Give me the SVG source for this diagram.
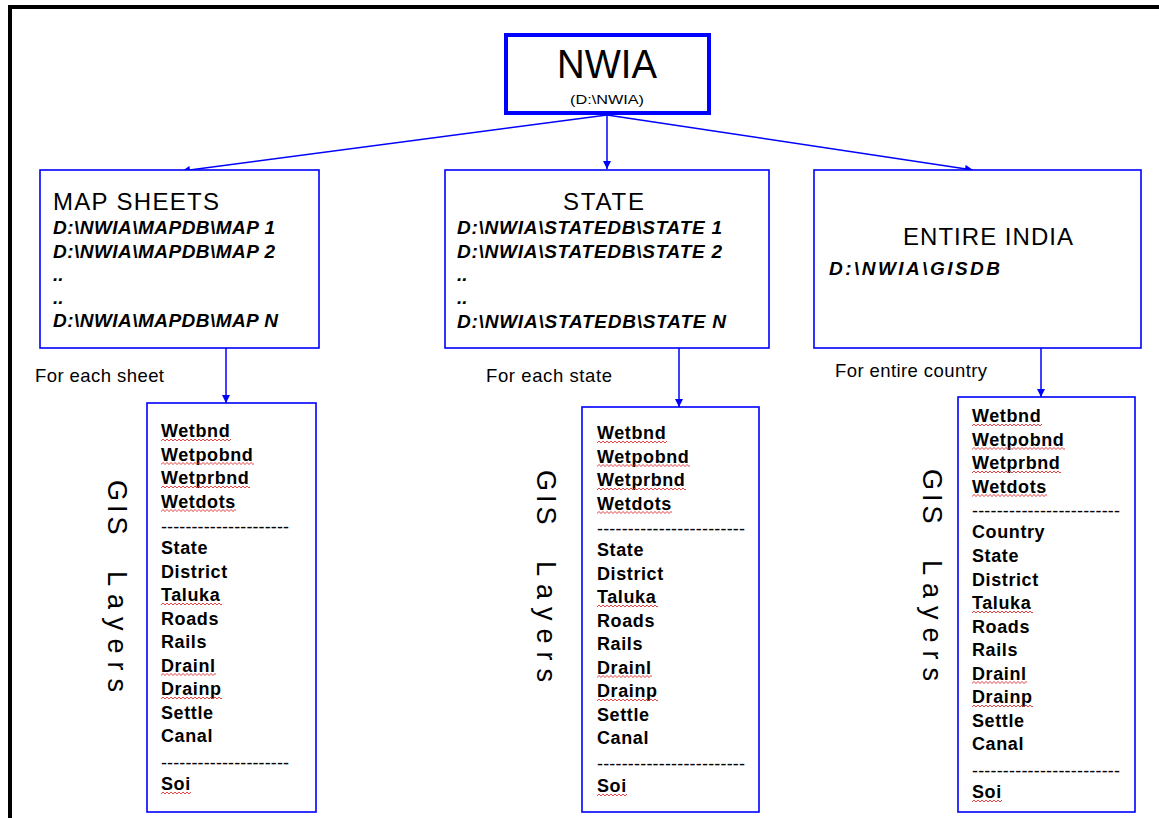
<svg xmlns="http://www.w3.org/2000/svg" width="1159" height="818" viewBox="0 0 1159 818">
<defs>
<style>
.box{fill:#fff;stroke:#0000ff;stroke-width:1.6}
.conn{stroke:#0000ff;stroke-width:1.5;fill:none;marker-end:url(#ah)}
text{font-family:"Liberation Sans",Arial,sans-serif;fill:#000}
.hdr{font-size:24px}
.pth{font-size:19px;font-style:italic;font-weight:bold}
.item{font-size:18px;font-weight:bold;letter-spacing:0.6px}
.dash{font-size:18px}
.lbl{font-size:18.5px}
.gis{font-size:27px}
.sq{fill:url(#sq)}
</style>
<pattern id="sq" width="4" height="4" patternUnits="userSpaceOnUse">
<path d="M0,3 L2,1 L4,3" fill="none" stroke="#e03030" stroke-width="0.9"/>
</pattern>
<marker id="ah" viewBox="0 0 10 10" refX="10" refY="5" markerWidth="9" markerHeight="8" markerUnits="userSpaceOnUse" orient="auto">
<path d="M0,0 L10,5 L0,10 z" fill="#0000ff"/>
</marker>
</defs>
<rect x="0" y="0" width="1159" height="818" fill="#fff"/>
<rect x="10" y="7" width="1200" height="900" fill="none" stroke="#000" stroke-width="4"/>

<g id="connectors">
<line class="conn" x1="607" y1="115" x2="182" y2="171"/>
<line class="conn" x1="607" y1="115" x2="607" y2="169"/>
<line class="conn" x1="607" y1="115" x2="973" y2="170"/>
<line class="conn" x1="226" y1="348" x2="226" y2="403"/>
<line class="conn" x1="679" y1="348" x2="679" y2="407"/>
<line class="conn" x1="1041" y1="348" x2="1041" y2="397"/>
</g>

<g id="nwia">
<rect x="506" y="35" width="203" height="78" fill="#fff" stroke="#0000ff" stroke-width="4"/>
<text x="557" y="78" font-size="40" textLength="100" lengthAdjust="spacingAndGlyphs">NWIA</text>
<text x="570" y="104" font-size="13" textLength="74" lengthAdjust="spacingAndGlyphs">(D:\NWIA)</text>
</g>

<g id="mapsheets">
<rect class="box" x="40" y="170" width="279" height="178"/>
<text class="hdr" x="53" y="210" textLength="166" lengthAdjust="spacing">MAP SHEETS</text>
<text class="pth" x="53" y="234" textLength="222" lengthAdjust="spacing">D:\NWIA\MAPDB\MAP 1</text>
<text class="pth" x="53" y="257.5" textLength="222" lengthAdjust="spacing">D:\NWIA\MAPDB\MAP 2</text>
<text class="pth" x="53" y="281">..</text>
<text class="pth" x="53" y="304">..</text>
<text class="pth" x="53" y="327" textLength="225" lengthAdjust="spacing">D:\NWIA\MAPDB\MAP N</text>
</g>

<g id="state">
<rect class="box" x="445" y="170" width="324" height="178"/>
<text class="hdr" x="563" y="210" textLength="81" lengthAdjust="spacing">STATE</text>
<text class="pth" x="457" y="234" textLength="265" lengthAdjust="spacing">D:\NWIA\STATEDB\STATE 1</text>
<text class="pth" x="457" y="257.5" textLength="265" lengthAdjust="spacing">D:\NWIA\STATEDB\STATE 2</text>
<text class="pth" x="457" y="281">..</text>
<text class="pth" x="457" y="304">..</text>
<text class="pth" x="457" y="327.5" textLength="269" lengthAdjust="spacing">D:\NWIA\STATEDB\STATE N</text>
</g>

<g id="india">
<rect class="box" x="814" y="170" width="327" height="178"/>
<text class="hdr" x="903" y="245" textLength="170" lengthAdjust="spacing">ENTIRE INDIA</text>
<text class="pth" x="829" y="275" textLength="171" lengthAdjust="spacing">D:\NWIA\GISDB</text>
</g>

<g id="labels">
<text class="lbl" x="35" y="382" textLength="129" lengthAdjust="spacing">For each sheet</text>
<text class="lbl" x="486" y="382" textLength="126" lengthAdjust="spacing">For each state</text>
<text class="lbl" x="835" y="377" textLength="152" lengthAdjust="spacing">For entire country</text>
</g>

<g id="gis1">
<text class="gis" transform="translate(108,480) rotate(90)"><tspan x="0" letter-spacing="4">GIS</tspan><tspan x="91" letter-spacing="8">Layers</tspan></text>
</g>
<g id="gis2">
<text class="gis" transform="translate(537,470) rotate(90)"><tspan x="0" letter-spacing="4">GIS</tspan><tspan x="91" letter-spacing="8">Layers</tspan></text>
</g>
<g id="gis3">
<text class="gis" transform="translate(923,469) rotate(90)"><tspan x="0" letter-spacing="4">GIS</tspan><tspan x="91" letter-spacing="8">Layers</tspan></text>
</g>

<g id="layers1">
<rect class="box" x="147" y="403" width="169" height="409"/>
<text class="item" x="161" y="437">Wetbnd</text>
<text class="item" x="161" y="460.5">Wetpobnd</text>
<text class="item" x="161" y="484">Wetprbnd</text>
<text class="item" x="161" y="507.5">Wetdots</text>
<text class="dash" x="161" y="533" textLength="128" lengthAdjust="spacing">---------------------</text>
<text class="item" x="161" y="554">State</text>
<text class="item" x="161" y="577.5">District</text>
<text class="item" x="161" y="601">Taluka</text>
<text class="item" x="161" y="624.5">Roads</text>
<text class="item" x="161" y="648">Rails</text>
<text class="item" x="161" y="671.5">Drainl</text>
<text class="item" x="161" y="695">Drainp</text>
<text class="item" x="161" y="718.5">Settle</text>
<text class="item" x="161" y="742">Canal</text>
<text class="dash" x="161" y="769" textLength="128" lengthAdjust="spacing">---------------------</text>
<text class="item" x="161" y="790">Soi</text>
<rect class="sq" transform="translate(161,438)" width="70" height="4"/>
<rect class="sq" transform="translate(161,461.5)" width="93" height="4"/>
<rect class="sq" transform="translate(161,485)" width="89" height="4"/>
<rect class="sq" transform="translate(161,508.5)" width="75" height="4"/>
<rect class="sq" transform="translate(161,602)" width="61" height="4"/>
<rect class="sq" transform="translate(161,672.5)" width="55" height="4"/>
<rect class="sq" transform="translate(161,696)" width="61" height="4"/>
<rect class="sq" transform="translate(161,791)" width="30" height="4"/>
</g>

<g id="layers2">
<rect class="box" x="582" y="407" width="177" height="405"/>
<text class="item" x="597" y="439">Wetbnd</text>
<text class="item" x="597" y="462.5">Wetpobnd</text>
<text class="item" x="597" y="486">Wetprbnd</text>
<text class="item" x="597" y="509.5">Wetdots</text>
<text class="dash" x="597" y="535" textLength="148" lengthAdjust="spacing">------------------------</text>
<text class="item" x="597" y="556">State</text>
<text class="item" x="597" y="579.5">District</text>
<text class="item" x="597" y="603">Taluka</text>
<text class="item" x="597" y="626.5">Roads</text>
<text class="item" x="597" y="650">Rails</text>
<text class="item" x="597" y="673.5">Drainl</text>
<text class="item" x="597" y="697">Drainp</text>
<text class="item" x="597" y="720.5">Settle</text>
<text class="item" x="597" y="744">Canal</text>
<text class="dash" x="597" y="770" textLength="148" lengthAdjust="spacing">------------------------</text>
<text class="item" x="597" y="792">Soi</text>
<rect class="sq" transform="translate(597,440)" width="70" height="4"/>
<rect class="sq" transform="translate(597,463.5)" width="93" height="4"/>
<rect class="sq" transform="translate(597,487)" width="89" height="4"/>
<rect class="sq" transform="translate(597,510.5)" width="75" height="4"/>
<rect class="sq" transform="translate(597,604)" width="61" height="4"/>
<rect class="sq" transform="translate(597,674.5)" width="55" height="4"/>
<rect class="sq" transform="translate(597,698)" width="61" height="4"/>
<rect class="sq" transform="translate(597,793)" width="30" height="4"/>
</g>

<g id="layers3">
<rect class="box" x="958" y="397" width="177" height="415"/>
<text class="item" x="972" y="422">Wetbnd</text>
<text class="item" x="972" y="445.5">Wetpobnd</text>
<text class="item" x="972" y="469">Wetprbnd</text>
<text class="item" x="972" y="492.5">Wetdots</text>
<text class="dash" x="972" y="517" textLength="148" lengthAdjust="spacing">------------------------</text>
<text class="item" x="972" y="538">Country</text>
<text class="item" x="972" y="562">State</text>
<text class="item" x="972" y="585.5">District</text>
<text class="item" x="972" y="609">Taluka</text>
<text class="item" x="972" y="632.5">Roads</text>
<text class="item" x="972" y="656">Rails</text>
<text class="item" x="972" y="679.5">Drainl</text>
<text class="item" x="972" y="703">Drainp</text>
<text class="item" x="972" y="726.5">Settle</text>
<text class="item" x="972" y="750">Canal</text>
<text class="dash" x="972" y="777" textLength="148" lengthAdjust="spacing">------------------------</text>
<text class="item" x="972" y="798">Soi</text>
<rect class="sq" transform="translate(972,423)" width="70" height="4"/>
<rect class="sq" transform="translate(972,446.5)" width="93" height="4"/>
<rect class="sq" transform="translate(972,470)" width="89" height="4"/>
<rect class="sq" transform="translate(972,493.5)" width="75" height="4"/>
<rect class="sq" transform="translate(972,610)" width="61" height="4"/>
<rect class="sq" transform="translate(972,680.5)" width="55" height="4"/>
<rect class="sq" transform="translate(972,704)" width="61" height="4"/>
<rect class="sq" transform="translate(972,799)" width="30" height="4"/>
</g>
</svg>
